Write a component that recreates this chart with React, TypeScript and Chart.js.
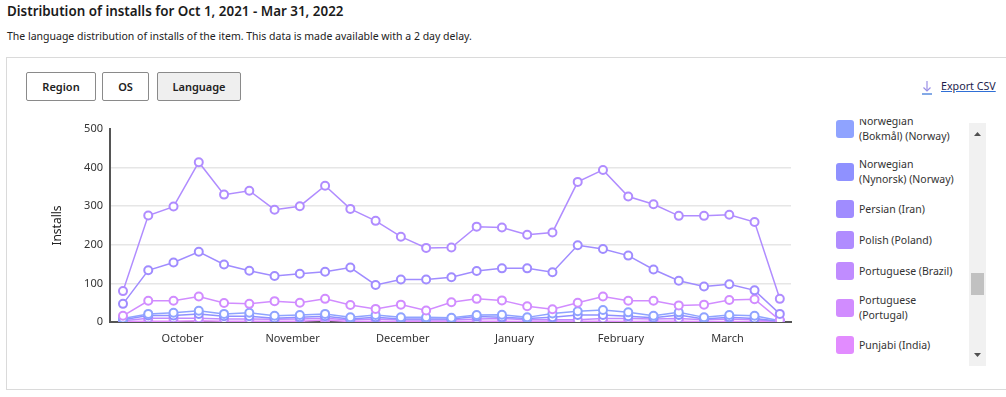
import React, { useEffect, useRef } from 'react';
import { Chart, registerables } from 'chart.js';

Chart.register(...registerables);

const FONT = "'Segoe UI', 'Noto Sans', sans-serif";

// weekly points, Sep 30 2021 .. Mar 31 2022
const weekDates = [
  '2021-09-30', '2021-10-07', '2021-10-14', '2021-10-21', '2021-10-28',
  '2021-11-04', '2021-11-11', '2021-11-18', '2021-11-25',
  '2021-12-02', '2021-12-09', '2021-12-16', '2021-12-23', '2021-12-30',
  '2022-01-06', '2022-01-13', '2022-01-20', '2022-01-27',
  '2022-02-03', '2022-02-10', '2022-02-17', '2022-02-24',
  '2022-03-03', '2022-03-10', '2022-03-17', '2022-03-24', '2022-03-31',
];

const monthLabels = ['October', 'November', 'December', 'January', 'February', 'March'];
const monthStarts = ['2021-10-01', '2021-11-01', '2021-12-01', '2022-01-01', '2022-02-01', '2022-03-01', '2022-04-01'];

const yTicks = [0, 100, 200, 300, 400, 500];

const polish = [80, 276, 299, 414, 330, 340, 291, 300, 353, 293, 262, 221, 192, 193, 247, 245, 226, 232, 363, 394, 325, 305, 275, 275, 278, 259, 60];
const persian = [47, 134, 154, 182, 149, 133, 119, 125, 130, 141, 96, 110, 110, 116, 132, 139, 139, 129, 199, 189, 172, 136, 107, 92, 98, 82, 21];
const portuguesePortugal = [16, 55, 55, 66, 49, 47, 54, 50, 60, 44, 34, 45, 30, 51, 60, 56, 41, 33, 50, 66, 55, 55, 43, 45, 57, 59, 5];
const norwegianBokmal = [9, 21, 24, 29, 21, 24, 16, 18, 21, 12, 18, 12, 12, 11, 18, 19, 12, 22, 28, 31, 25, 16, 25, 12, 18, 16, 3];
const norwegianNynorsk = [6, 17, 17, 21, 15, 15, 10, 12, 15, 8, 12, 8, 8, 8, 14, 12, 9, 12, 18, 18, 15, 11, 18, 8, 12, 9, 2];
const portugueseBrazil = [3, 10, 10, 10, 8, 8, 7, 8, 10, 5, 8, 5, 5, 5, 8, 9, 6, 6, 6, 9, 9, 8, 9, 6, 8, 6, 1];
const punjabi = [1, 2, 2, 3, 2, 2, 2, 2, 5, 1, 2, 1, 1, 1, 2, 2, 1, 2, 2, 2, 1, 2, 2, 1, 1, 1, 0];

const legendLabels = [
  'Norwegian (Bokmål) (Norway)',
  'Norwegian (Nynorsk) (Norway)',
  'Persian (Iran)',
  'Polish (Poland)',
  'Portuguese (Brazil)',
  'Portuguese (Portugal)',
  'Punjabi (India)',
];
const legendColors = ['#8FA3FF', '#8F91FF', '#A08CFF', '#B08CFF', '#C08CFF', '#D18CFF', '#E28CFF'];

const seriesList = [
  { label: 'Polish (Poland)', data: polish, color: '#B08CFF' },
  { label: 'Persian (Iran)', data: persian, color: '#A08CFF' },
  { label: 'Portuguese (Portugal)', data: portuguesePortugal, color: '#D18CFF' },
  { label: 'Norwegian (Bokmål) (Norway)', data: norwegianBokmal, color: '#8FA3FF' },
  { label: 'Norwegian (Nynorsk) (Norway)', data: norwegianNynorsk, color: '#8F91FF' },
  { label: 'Portuguese (Brazil)', data: portugueseBrazil, color: '#C08CFF' },
  { label: 'Punjabi (India)', data: punjabi, color: '#E28CFF' },
];

const DAY = 86400000;
const t = (s: string) => Date.parse(s + 'T00:00:00Z');

function ChartCanvas() {
  const ref = useRef<HTMLCanvasElement | null>(null);
  useEffect(() => {
    if (!ref.current) return;
    const monthMids = monthLabels.map((_, i) => (t(monthStarts[i]) + t(monthStarts[i + 1])) / 2);
    const chart = new Chart(ref.current, {
      type: 'line',
      data: {
        datasets: seriesList.map((s) => ({
          label: s.label,
          data: s.data.map((v, i) => ({ x: t(weekDates[i]), y: v })),
          borderColor: s.color,
          backgroundColor: '#ffffff',
          pointBackgroundColor: '#ffffff',
          pointBorderColor: s.color,
          pointRadius: 4,
          pointBorderWidth: 2,
          borderWidth: 1.5,
          tension: 0,
          fill: false,
        })),
      },
      options: {
        animation: false,
        responsive: false,
        maintainAspectRatio: false,
        layout: { padding: { top: 14, right: 9, bottom: 0, left: 0 } },
        plugins: { legend: { display: false }, tooltip: { enabled: false } },
        scales: {
          x: {
            type: 'linear',
            min: t(weekDates[0]) - 3.6 * DAY,
            max: t(weekDates[weekDates.length - 1]) + 3.1 * DAY,
            afterFit: (scale: any) => { scale.height = 28; },
            afterBuildTicks: (axis: any) => { axis.ticks = monthMids.map((v) => ({ value: v })); },
            grid: { display: false, drawTicks: false },
            border: { display: true, color: '#555555', width: 2 },
            ticks: {
              autoSkip: false,
              maxRotation: 0,
              padding: 10,
              color: '#333333',
              font: { family: FONT, size: 11 },
              callback: (_v: any, i: number) => monthLabels[i],
            },
          },
          y: {
            min: yTicks[0],
            max: yTicks[yTicks.length - 1],
            afterFit: (scale: any) => { scale.width = 70; },
            afterBuildTicks: (axis: any) => { axis.ticks = yTicks.map((v) => ({ value: v })); },
            grid: {
              drawTicks: false,
              lineWidth: 1.5,
              color: (ctx: any) => (ctx.tick && (ctx.tick.value === 500 || ctx.tick.value === 0) ? 'rgba(0,0,0,0)' : '#E6E6E6'),
            },
            border: { display: true, color: '#555555', width: 2 },
            ticks: {
              padding: 7,
              color: '#333333',
              font: { family: FONT, size: 11 },
            },
            title: {
              display: true,
              text: 'Installs',
              color: '#222222',
              font: { family: FONT, size: 12 },
              padding: { top: 10, bottom: 0 },
            },
          },
        },
      },
    });
    return () => chart.destroy();
  }, []);
  return <canvas ref={ref} width={760} height={235} style={{ position: 'absolute', left: 40, top: 115, width: 760, height: 235 }} />;
}

const btn = (left: number, width: number, text: string, active: boolean) => (
  <div
    style={{
      position: 'absolute', left, top: 72, width, height: 29, boxSizing: 'border-box',
      border: '1px solid #8A8A8A', borderRadius: 2, background: active ? '#EFEFEF' : '#FFFFFF',
      font: `600 11px ${FONT}`, color: '#222', display: 'flex', alignItems: 'center', justifyContent: 'center',
    }}
  >{text}</div>
);

export default function App() {
  const twoLine = [true, true, false, false, false, true, false];
  return (
    <div style={{ position: 'fixed', left: 0, top: 0, width: 1006, height: 397, background: '#fff', fontFamily: FONT, overflow: 'hidden' }}>
      <div style={{ position: 'absolute', left: 7, top: 2, font: `600 13.4px ${FONT}`, lineHeight: '19px', color: '#1b1b1b', whiteSpace: 'nowrap' }}>
        Distribution of installs for Oct 1, 2021 - Mar 31, 2022
      </div>
      <div style={{ position: 'absolute', left: 7, top: 28, font: `10.5px ${FONT}`, lineHeight: '16px', color: '#222', whiteSpace: 'nowrap' }}>
        The language distribution of installs of the item. This data is made available with a 2 day delay.
      </div>
      <div style={{ position: 'absolute', left: 6, top: 57, width: 1010, height: 333, boxSizing: 'border-box', border: '1px solid #DADADA' }} />
      {btn(26, 70, 'Region', false)}
      {btn(102, 47, 'OS', false)}
      {btn(157, 84, 'Language', true)}
      <svg style={{ position: 'absolute', left: 921, top: 80 }} width={12} height={16}>
        <line x1={6} y1={1} x2={6} y2={11} stroke="#9A8FE6" strokeWidth={1.2} />
        <polyline points="2.5,7.5 6,11 9.5,7.5" fill="none" stroke="#9A8FE6" strokeWidth={1.2} />
        <line x1={1} y1={14} x2={11} y2={14} stroke="#2F6FD6" strokeWidth={1.2} />
      </svg>
      <div style={{ position: 'absolute', left: 941, top: 78, font: `10.7px ${FONT}`, lineHeight: '17px', color: '#1d1d4d', textDecoration: 'underline', textDecorationColor: '#2F6FD6', whiteSpace: 'nowrap' }}>
        Export CSV
      </div>
      <ChartCanvas />
      <div style={{ position: 'absolute', left: 830, top: 119, width: 135, height: 243, overflow: 'hidden' }}>
        <div style={{ position: 'absolute', left: 0, top: -11.5, width: 135 }}>
          {legendLabels.map((lab, i) => (
            <div key={lab} style={{ display: 'flex', alignItems: 'center', padding: '6.5px 0', height: twoLine[i] ? 30 : 18, boxSizing: 'content-box' }}>
              <div style={{ width: 18, height: 18, borderRadius: 3, background: legendColors[i], marginLeft: 6, flex: 'none' }} />
              <div style={{ marginLeft: 5, width: 100, font: `10.5px ${FONT}`, lineHeight: '15px', color: '#333' }}>{lab}</div>
            </div>
          ))}
        </div>
      </div>
      <div style={{ position: 'absolute', left: 969, top: 123, width: 17, height: 243, background: '#F1F1F1' }}>
        <svg style={{ position: 'absolute', left: 0, top: 0 }} width={17} height={243}>
          <polygon points="5,13 12,13 8.5,9" fill="#505050" />
          <polygon points="5,230 12,230 8.5,234" fill="#505050" />
        </svg>
        <div style={{ position: 'absolute', left: 2, top: 150, width: 13, height: 22, background: '#C1C1C1' }} />
      </div>
    </div>
  );
}
